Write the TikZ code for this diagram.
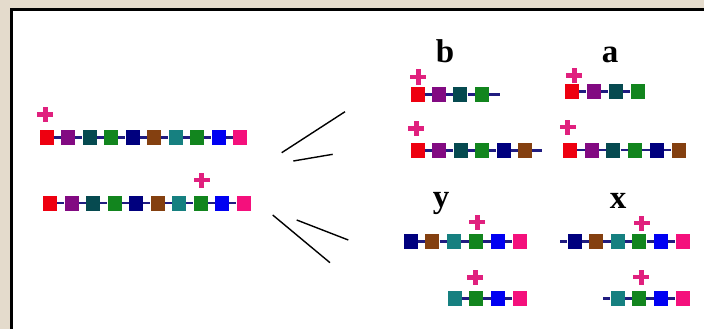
\documentclass[tikz,border=0pt]{standalone}
\usepackage{fontspec}
\setmainfont{Liberation Serif}
\definecolor{bgbeige}{HTML}{E4DBCC}
\definecolor{cR}{HTML}{EE0010}
\definecolor{cP}{HTML}{820A82}
\definecolor{cD}{HTML}{064A50}
\definecolor{cG}{HTML}{12851E}
\definecolor{cN}{HTML}{00007E}
\definecolor{cBr}{HTML}{844010}
\definecolor{cT}{HTML}{168080}
\definecolor{cBl}{HTML}{0000F2}
\definecolor{cK}{HTML}{F4107C}
\definecolor{cPlus}{HTML}{E0207E}
\definecolor{cLink}{HTML}{201C80}
\newcommand\chainrow[5]{%
  \foreach \c [count=\i] in {#5} {
    \node[sq, fill=\c] (#1-\i) at ({#2+(\i-1)*#4},#3) {};
  }
  \foreach \c [count=\i from 2] in {#5} {
    \ifnum\i>1\relax\fi
  }
}
\newcommand\linkrow[2]{%
  \foreach \j [evaluate=\j as \k using int(\j+1)] in {1,...,#2} {
    \draw[conn] (#1-\j) -- (#1-\k);
  }
}
\newcommand\plusmark[2]{%
  \fill[cPlus] ({#1-8},{#2-2.3}) rectangle ({#1+8},{#2+2.3});
  \fill[cPlus] ({#1-2.5},{#2-7.5}) rectangle ({#1+2.5},{#2+7.5});
}
\tikzset{
  sq/.style={rectangle, minimum width=14pt, minimum height=15pt, inner sep=0pt, draw=none},
  conn/.style={draw=cLink, line width=2.2pt},
  stroke/.style={draw=black, line width=1.4pt},
  lbl/.style={font=\fontsize{33}{33}\selectfont\bfseries, inner sep=0pt, anchor=base}
}
\begin{document}
\begin{tikzpicture}[x=1pt,y=-1pt]
\useasboundingbox (0,0) rectangle (704,329);
\fill[bgbeige] (0,0) rectangle (704,329);
\fill[white] (11,10) rectangle (720,340);
\draw[black, line width=2.6pt] (720,9.8) -- (11.2,9.8) -- (11.2,340);

% left chains
\chainrow{L1}{46.5}{137.5}{21.5}{cR,cP,cD,cG,cN,cBr,cT,cG,cBl,cK}
\linkrow{L1}{9}
\plusmark{45}{114.5}
\chainrow{L2}{50}{203}{21.5}{cR,cP,cD,cG,cN,cBr,cT,cG,cBl,cK}
\linkrow{L2}{9}
\plusmark{201.5}{180}

% strokes
\coordinate (s1a) at (281.7,152.7); \coordinate (s1b) at (345,111.7);
\coordinate (s2a) at (293.3,161);   \coordinate (s2b) at (332.7,154.3);
\coordinate (s3a) at (272.7,215);   \coordinate (s3b) at (330,262.7);
\coordinate (s4a) at (296.7,220);   \coordinate (s4b) at (348.3,240);
\draw[stroke] (s1a) -- (s1b);
\draw[stroke] (s2a) -- (s2b);
\draw[stroke] (s3a) -- (s3b);
\draw[stroke] (s4a) -- (s4b);

% labels
\node[lbl] (lb) at (445,63) {b};
\node[lbl] (la) at (610,63) {a};
\node[lbl] (ly) at (441,207) {y};
\node[lbl] (lx) at (618,208) {x};

% b
\chainrow{b1}{417.5}{94.5}{21.4}{cR,cP,cD,cG}
\linkrow{b1}{3}
\coordinate (b1e) at (500,94.5);
\draw[conn] (b1-4) -- (b1e);
\plusmark{418}{77}
\chainrow{b2}{417.5}{150.5}{21.5}{cR,cP,cD,cG,cN,cBr}
\linkrow{b2}{5}
\coordinate (b2e) at (542,150.5);
\draw[conn] (b2-6) -- (b2e);
\plusmark{416}{128.5}

% a
\chainrow{a1}{571.5}{91.5}{22}{cR,cP,cD,cG}
\linkrow{a1}{3}
\plusmark{574}{75.5}
\chainrow{a2}{570}{150}{21.7}{cR,cP,cD,cG,cN,cBr}
\linkrow{a2}{5}
\plusmark{567.5}{127}

% y
\chainrow{y1}{410.5}{241.5}{21.8}{cN,cBr,cT,cG,cBl,cK}
\linkrow{y1}{5}
\plusmark{477}{222}
\chainrow{y2}{454.5}{298.5}{21.7}{cT,cG,cBl,cK}
\linkrow{y2}{3}
\plusmark{475}{277.5}

% x
\chainrow{x1}{574.5}{241.5}{21.6}{cN,cBr,cT,cG,cBl,cK}
\linkrow{x1}{5}
\coordinate (x1s) at (560,241.5);
\draw[conn] (x1s) -- (x1-1);
\plusmark{641.5}{223}
\chainrow{x2}{617.5}{298.5}{21.7}{cT,cG,cBl,cK}
\linkrow{x2}{3}
\coordinate (x2s) at (603,298.5);
\draw[conn] (x2s) -- (x2-1);
\plusmark{641}{277}
\end{tikzpicture}
\end{document}
